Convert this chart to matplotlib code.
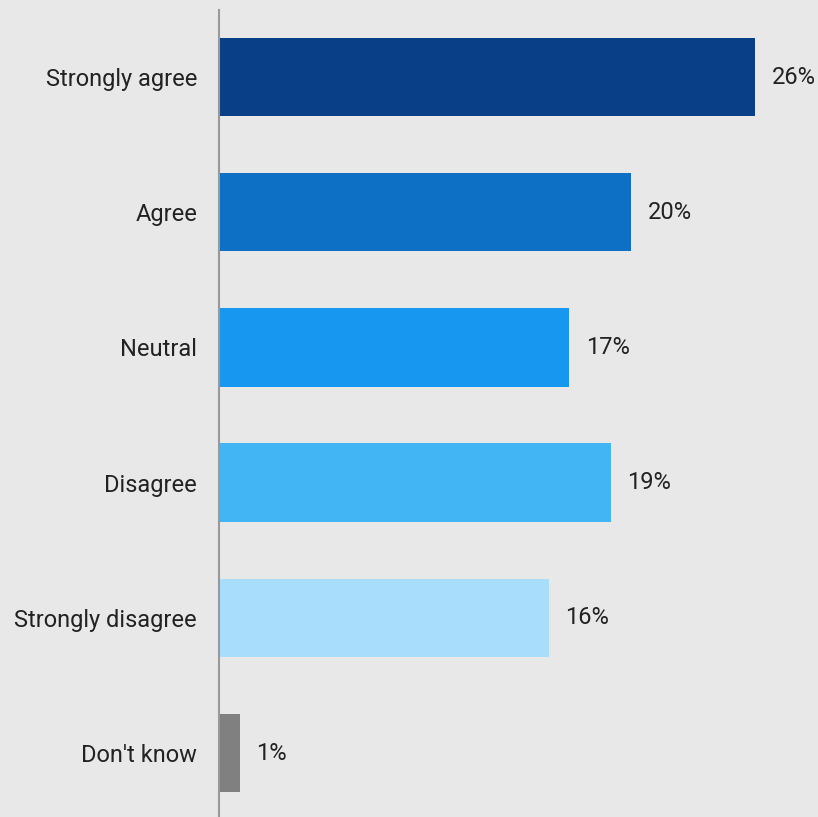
import matplotlib
matplotlib.use("Agg")
import matplotlib.pyplot as plt

categories = ["Strongly agree", "Agree", "Neutral", "Disagree",
              "Strongly disagree", "Don't know"]
values = [26, 20, 17, 19, 16, 1]
colors = ["#083f86", "#0d70c5", "#1797f0", "#42b5f5", "#a8defc", "#808080"]

plt.rcParams['font.family'] = ['Roboto', 'DejaVu Sans']

fig = plt.figure(figsize=(8.18, 8.17), dpi=100, facecolor="#e8e8e8")
ax = fig.add_axes([219 / 818, 0, 1 - 219 / 818, 1 - 10 / 817])
ax.set_facecolor("#e8e8e8")

y = list(range(len(categories)))
ax.barh(y, values, height=0.58, color=colors)

for yi, v in zip(y, values):
    ax.text(v + 0.8, yi, f"{v}%", va="center", ha="left",
            fontsize=17, color="#222222")

ax.set_xlim(0, 29.06)
ax.set_ylim(5.473, -0.496)
ax.set_yticks(y)
ax.set_yticklabels(categories, fontsize=17, color="#222222")
ax.tick_params(axis="y", length=0, pad=15.8)
ax.set_xticks([])

for s in ["top", "right", "bottom"]:
    ax.spines[s].set_visible(False)
ax.spines["left"].set_color("#999999")
ax.spines["left"].set_linewidth(1.5)

fig.savefig("out.png", dpi=100, facecolor=fig.get_facecolor())
